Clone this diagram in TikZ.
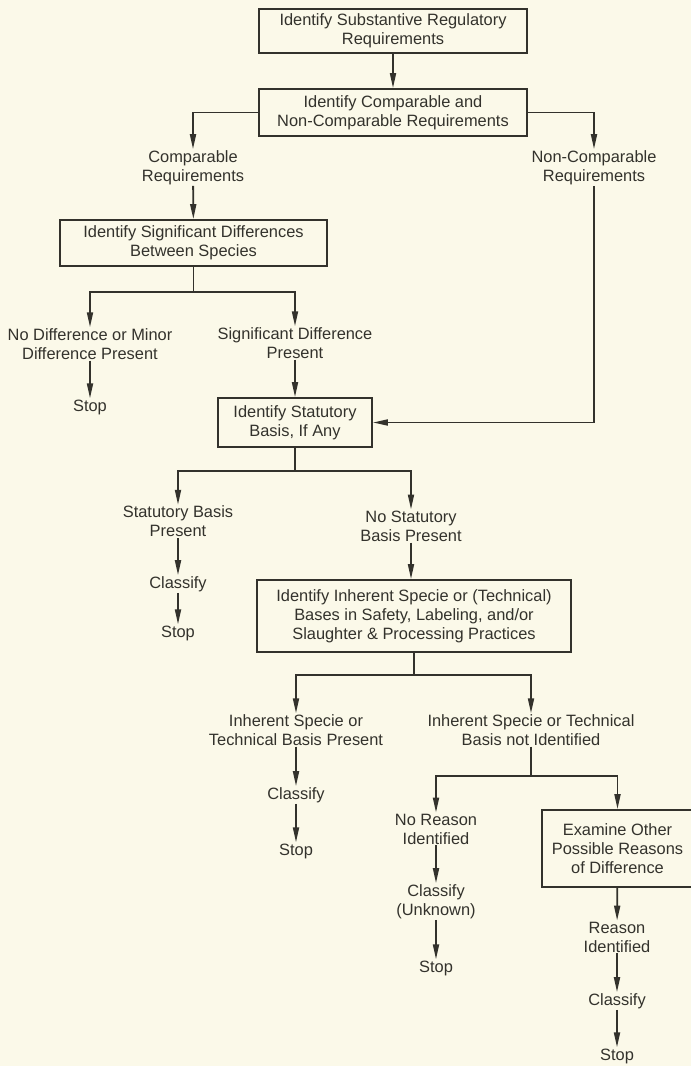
\documentclass[tikz,border=0pt]{standalone}
\usepackage{fontspec}
\setmainfont{Liberation Sans}
\usepackage{xcolor}
\usetikzlibrary{arrows.meta}
\definecolor{paper}{HTML}{FBF9E9}
\definecolor{ink}{HTML}{33322C}
\tikzset{
  box/.style={draw=ink,line width=1.8pt,align=center,text=ink,inner sep=0pt,font=\fontsize{16.4}{19}\selectfont},
  lbl/.style={align=center,text=ink,inner sep=1pt,font=\fontsize{16.4}{19}\selectfont},
  arr/.style={draw=ink,line width=1.8pt,-{Triangle[length=15pt,width=6pt]}},
  ln/.style={draw=ink,line width=1.8pt}
}

\begin{document}
\begin{tikzpicture}[x=1pt,y=-1pt]
\fill[paper] (0,0) rectangle (691,1066);
\useasboundingbox (0,0) rectangle (691,1066);

% boxes
\node[box,minimum width=268,minimum height=44] (subst) at (393,31) {Identify Substantive Regulatory\\Requirements};
\node[box,minimum width=268,minimum height=47] (compare) at (393,112.5) {Identify Comparable and\\Non-Comparable Requirements};
\node[box,minimum width=267,minimum height=46] (signif) at (193.5,243) {Identify Significant Differences\\Between Species};
\node[box,minimum width=154,minimum height=49] (statut) at (295,422.5) {Identify Statutory\\Basis, If Any};
\node[box,minimum width=314,minimum height=72] (inher) at (414,616) {Identify Inherent Specie or (Technical)\\Bases in Safety, Labeling, and/or\\Slaughter \& Processing Practices};
\node[box,minimum width=151,minimum height=77] (examine) at (617.5,848.5) {Examine Other\\Possible Reasons\\of Difference};

% labels
\node[lbl] (comp) at (193,167.5) {Comparable\\Requirements};
\node[lbl] (noncomp) at (594,167.5) {Non-Comparable\\Requirements};
\node[lbl] (nodiff) at (90,344) {No Difference or Minor\\Difference Present};
\node[lbl] (stopA) at (90,407) {Stop};
\node[lbl] (sigdiff) at (295,343) {Significant Difference\\Present};
\node[lbl] (statpres) at (178,521.5) {Statutory Basis\\Present};
\node[lbl] (classA) at (178,584) {Classify};
\node[lbl] (stopB) at (178,633) {Stop};
\node[lbl] (nostat) at (411,526) {No Statutory\\Basis Present};
\node[lbl] (inhpres) at (296,730) {Inherent Specie or\\Technical Basis Present};
\node[lbl] (classB) at (296,795) {Classify};
\node[lbl] (stopC) at (296,851) {Stop};
\node[lbl] (inhnot) at (531,730) {Inherent Specie or Technical\\Basis not Identified};
\node[lbl] (noreason) at (436,829) {No Reason\\Identified};
\node[lbl] (classC) at (436,901.5) {Classify\\(Unknown)};
\node[lbl] (stopD) at (436,968) {Stop};
\node[lbl] (reason) at (617,937) {Reason\\Identified};
\node[lbl] (classD) at (617,1001) {Classify};
\node[lbl] (stopE) at (617,1056) {Stop};

% junctions
\coordinate (jA) at (193.5,292);
\coordinate (jB) at (295,471);
\coordinate (jC) at (414,675);
\coordinate (jD) at (531,776);

% connectors
\draw[arr] (subst) -- (compare);
\draw[arr] (compare.west) -| (comp.north);
\draw[arr] (compare.east) -| (noncomp.north);
\draw[arr] (comp) -- (signif);
\draw[ln] (signif) -- (jA);
\draw[arr] (jA) -| (nodiff.north);
\draw[arr] (jA) -| (sigdiff.north);
\draw[arr] (nodiff) -- (stopA);
\draw[arr] (sigdiff) -- (statut);
\draw[arr] (noncomp.south) |- (statut.east);
\draw[ln] (statut) -- (jB);
\draw[arr] (jB) -| (statpres.north);
\draw[arr] (jB) -| (nostat.north);
\draw[arr] (statpres) -- (classA);
\draw[arr] (classA) -- (stopB);
\draw[arr] (nostat.south) -- (nostat.south |- inher.north);
\draw[ln] (inher) -- (jC);
\draw[arr] (jC) -| (inhpres.north);
\draw[arr] (jC) -| (inhnot.north);
\draw[arr] (inhpres) -- (classB);
\draw[arr] (classB) -- (stopC);
\draw[ln] (inhnot) -- (jD);
\draw[arr] (jD) -| (noreason.north);
\draw[arr] (jD) -| (examine.north);
\draw[arr] (noreason) -- (classC);
\draw[arr] (classC) -- (stopD);
\draw[arr] (examine) -- (reason);
\draw[arr] (reason) -- (classD);
\draw[arr] (classD) -- (stopE);
\end{tikzpicture}
\end{document}
